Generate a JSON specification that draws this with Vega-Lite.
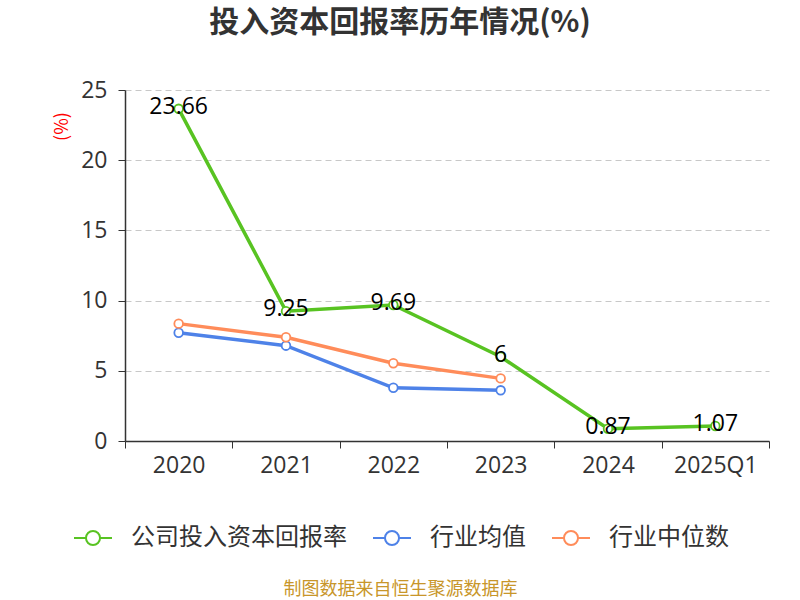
{
  "$schema": "https://vega.github.io/schema/vega-lite/v6.json",
  "autosize": {"type": "none"},
  "width": 644,
  "height": 351,
  "padding": {"left": 125, "top": 90, "right": 31, "bottom": 159},
  "background": "white",
  "title": {
    "text": "投入资本回报率历年情况(%)",
    "fontSize": 30,
    "fontWeight": "bold",
    "color": "#333333",
    "font": "Noto Sans CJK SC",
    "anchor": "middle",
    "dx": -47,
    "offset": 41
  },
  "data": {
    "values": [
      {"year": "2020", "series": "公司投入资本回报率", "value": 23.66},
      {"year": "2021", "series": "公司投入资本回报率", "value": 9.25},
      {"year": "2022", "series": "公司投入资本回报率", "value": 9.69},
      {"year": "2023", "series": "公司投入资本回报率", "value": 6},
      {"year": "2024", "series": "公司投入资本回报率", "value": 0.87},
      {"year": "2025Q1", "series": "公司投入资本回报率", "value": 1.07},
      {"year": "2020", "series": "行业均值", "value": 7.71},
      {"year": "2021", "series": "行业均值", "value": 6.79},
      {"year": "2022", "series": "行业均值", "value": 3.79},
      {"year": "2023", "series": "行业均值", "value": 3.61},
      {"year": "2020", "series": "行业中位数", "value": 8.36},
      {"year": "2021", "series": "行业中位数", "value": 7.39},
      {"year": "2022", "series": "行业中位数", "value": 5.54},
      {"year": "2023", "series": "行业中位数", "value": 4.46}
    ]
  },
  "encoding": {
    "x": {
      "field": "year",
      "type": "ordinal",
      "sort": null,
      "scale": {"type": "band", "paddingInner": 0, "paddingOuter": 0},
      "axis": {
        "title": "制图数据来自恒生聚源数据库",
        "titleColor": "#c8962a",
        "titleFontSize": 18,
        "titleFontWeight": "normal",
        "titleFont": "Noto Sans CJK SC",
        "titleX": 275,
        "titleY": 148,
        "titleAlign": "center",
        "titleBaseline": "middle",
        "labelAngle": 0,
        "labelFontSize": 23,
        "labelColor": "#333333",
        "labelFont": "Open Sans",
        "labelPadding": 6,
        "tickBand": "extent",
        "tickSize": 7,
        "tickColor": "#333333",
        "domainColor": "#333333",
        "domainWidth": 1.5,
        "grid": false
      }
    },
    "y": {
      "field": "value",
      "type": "quantitative",
      "scale": {"domain": [0, 25]},
      "axis": {
        "title": "(%)",
        "titleColor": "#ff0000",
        "titleFontSize": 18,
        "titleFontWeight": "normal",
        "titleFont": "Noto Sans CJK SC",
        "titleAngle": 270,
        "titleX": -63,
        "titleY": 36,
        "titleAlign": "center",
        "titleBaseline": "middle",
        "values": [0, 5, 10, 15, 20, 25],
        "labelFontSize": 23,
        "labelColor": "#333333",
        "labelFont": "Open Sans",
        "labelPadding": 11,
        "tickSize": 7,
        "tickColor": "#333333",
        "domainColor": "#333333",
        "domainWidth": 1.5,
        "gridColor": "#c8c8c8",
        "gridDash": [6, 4],
        "gridWidth": 1
      }
    },
    "color": {
      "field": "series",
      "type": "nominal",
      "scale": {
        "domain": ["公司投入资本回报率", "行业均值", "行业中位数"],
        "range": ["#58c322", "#4e82e8", "#ff8c5a"]
      },
      "legend": {
        "title": null,
        "orient": "none",
        "direction": "horizontal",
        "legendX": -52,
        "legendY": 428,
        "symbolType": "M-1,0L-0.37,0M0.37,0L1,0M0.37,0A0.37,0.37,0,1,1,-0.37,0A0.37,0.37,0,1,1,0.37,0",
        "symbolSize": 1444,
        "symbolStrokeWidth": 2,
        "symbolFillColor": "white",
        "labelFontSize": 24,
        "labelColor": "#333333",
        "labelFont": "Noto Sans CJK SC",
        "labelLimit": 400,
        "labelOffset": 18,
        "columnPadding": 22
      }
    }
  },
  "layer": [
    {"mark": {"type": "line", "strokeWidth": 3.5}},
    {"mark": {"type": "point", "filled": false, "fill": "white", "fillOpacity": 1, "size": 75, "strokeWidth": 1.8, "opacity": 1}},
    {
      "transform": [{"filter": "datum.series == '公司投入资本回报率'"}],
      "mark": {"type": "text", "fontSize": 23, "color": "#000000", "baseline": "middle", "dy": -2, "font": "Open Sans"},
      "encoding": {"text": {"field": "value", "type": "quantitative"}, "color": {"value": "#000000"}}
    }
  ],
  "config": {"view": {"stroke": null}}
}
